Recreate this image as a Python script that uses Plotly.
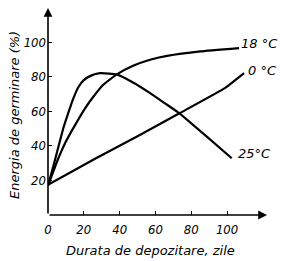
import plotly.graph_objects as go

# Data
x_18 = [0, 5.4, 10, 15.1, 20.7, 25.3, 31, 38.4, 47.5, 57, 66.5, 85, 106.7]
y_18 = [17, 31.8, 42.5, 52, 61.7, 68.4, 75.5, 81.3, 86.3, 89.8, 92, 94.6, 96.5]

x_25 = [0, 3.9, 8.5, 11, 14, 17, 20, 24, 29, 34, 38.4, 47.7, 57, 65, 73.4, 88.7, 102.6]
y_25 = [17, 31.8, 50, 58, 67, 74, 78, 80.6, 82, 81.8, 81.3, 76.5, 70.5, 64.8, 58.8, 45.3, 32.8]

x_0 = [0, 26.3, 50, 73.4, 99, 109.5]
y_0 = [17.5, 32.5, 45.5, 58.8, 73.5, 82]

series_labels = ["18 °C", "0 °C", "25°C"]
label_x = [117.9, 119.6, 115.1]
label_y = [99.4, 83.8, 35.8]

x_ticks = [0, 20, 40, 60, 80, 100]
y_ticks = [20, 40, 60, 80, 100]
x_title = "Durata de depozitare, zile"
y_title = "Energia de germinare (%)"

X_MAX = 122.3
Y_MAX = 119.7

FONT_TITLE = dict(family="DejaVu Sans, Liberation Sans, sans-serif", size=13, color="black", style="italic")
FONT_TICK = dict(family="DejaVu Sans Condensed, DejaVu Sans, sans-serif", size=13, color="black", style="italic")

L, R, T, B = 48, 17, 8, 46
W, H = 284, 261
pw, ph = W - L - R, H - T - B

fig = go.Figure()
line_style = dict(color="black", width=2.2, shape="spline", smoothing=0.35)
for xs, ys, name in [(x_18, y_18, series_labels[0]), (x_0, y_0, series_labels[1]), (x_25, y_25, series_labels[2])]:
    fig.add_trace(go.Scatter(x=xs, y=ys, mode="lines", line=line_style, name=name,
                             showlegend=False, hoverinfo="skip", cliponaxis=False))

annotations = []
for t, lx, ly in zip(series_labels, label_x, label_y):
    annotations.append(dict(x=lx, y=ly, xref="x", yref="y", text=t, showarrow=False,
                            font=FONT_TITLE, xanchor="center", yanchor="middle"))

# axis arrows
annotations.append(dict(x=X_MAX, y=0, ax=0, ay=0, xref="x", yref="y", axref="x", ayref="y",
                        text="", showarrow=True, arrowhead=2, arrowsize=1.1, arrowwidth=1.6,
                        arrowcolor="black", standoff=0, startstandoff=0))
annotations.append(dict(x=0, y=Y_MAX, ax=0, ay=0, xref="x", yref="y", axref="x", ayref="y",
                        text="", showarrow=True, arrowhead=2, arrowsize=1.1, arrowwidth=1.6,
                        arrowcolor="black", standoff=0, startstandoff=0))

# axis titles (paper coords relative to plot area)
annotations.append(dict(x=(150 - L) / pw, y=(H - B - 250) / ph, xref="paper", yref="paper", text=x_title,
                        showarrow=False, font=FONT_TITLE, xanchor="center", yanchor="middle"))
annotations.append(dict(x=(14 - L) / pw, y=(H - B - 115) / ph, xref="paper", yref="paper", text=y_title,
                        showarrow=False, font=FONT_TITLE, textangle=-90, xanchor="center", yanchor="middle"))

fig.update_layout(
    width=W, height=H,
    margin=dict(l=L, r=R, t=T, b=B, pad=0),
    paper_bgcolor="white", plot_bgcolor="white",
    annotations=annotations,
    xaxis=dict(range=[0, X_MAX], showgrid=False, zeroline=False, showline=False,
               tickvals=x_ticks, ticktext=[str(v) for v in x_ticks],
               ticks="inside", ticklen=4, tickwidth=1.3, tickcolor="black",
               tickfont=FONT_TICK, ticklabelstandoff=5, fixedrange=True),
    yaxis=dict(range=[0, Y_MAX], showgrid=False, zeroline=False, showline=False,
               tickvals=y_ticks, ticktext=[str(v) for v in y_ticks],
               ticks="inside", ticklen=4, tickwidth=1.3, tickcolor="black",
               tickfont=FONT_TICK, ticklabelstandoff=1, fixedrange=True),
)

fig.write_html("out.html", config={"displayModeBar": False})
